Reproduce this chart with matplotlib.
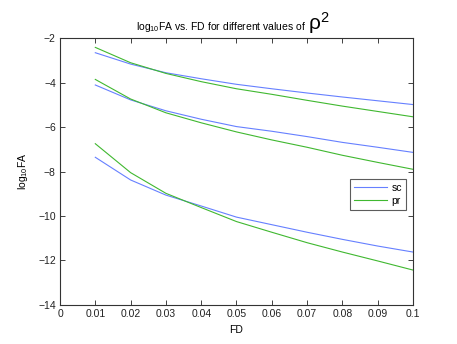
import numpy as np
from matplotlib import pyplot as plt

fd = [0.01, 0.02, 0.03, 0.04, 0.05, 0.06, 0.07, 0.08, 0.09, 0.1]

# three rho^2 values, sc = blue, pr = green
sc_1 = [-2.66, -3.17, -3.56, -3.83, -4.08, -4.28, -4.47, -4.65, -4.82, -4.99]
pr_1 = [-2.42, -3.11, -3.59, -3.96, -4.28, -4.53, -4.80, -5.06, -5.30, -5.54]
sc_2 = [-4.11, -4.78, -5.27, -5.65, -5.98, -6.19, -6.43, -6.69, -6.91, -7.14]
pr_2 = [-3.86, -4.74, -5.36, -5.81, -6.22, -6.58, -6.91, -7.27, -7.59, -7.90]
sc_3 = [-7.36, -8.38, -9.06, -9.55, -10.05, -10.39, -10.73, -11.05, -11.35, -11.62]
pr_3 = [-6.75, -8.05, -8.98, -9.62, -10.25, -10.73, -11.20, -11.62, -12.02, -12.43]

x_ticks = [0, 0.01, 0.02, 0.03, 0.04, 0.05, 0.06, 0.07, 0.08, 0.09, 0.1]
x_labels = ['0', '0.01', '0.02', '0.03', '0.04', '0.05', '0.06', '0.07', '0.08', '0.09', '0.1']
y_ticks = [-14, -12, -10, -8, -6, -4, -2]


def main():
    plt.rcParams['font.family'] = ['Liberation Sans', 'DejaVu Sans']
    plt.rcParams['mathtext.fontset'] = 'custom'
    plt.rcParams['mathtext.rm'] = 'Liberation Sans'
    plt.rcParams['mathtext.it'] = 'Liberation Sans:italic'
    plt.rcParams['mathtext.default'] = 'regular'

    blue = '#6680ff'
    green = '#40b830'

    fig = plt.figure(figsize=(4.57, 3.44), dpi=100)
    ax = fig.add_axes([0.1313, 0.1134, 0.7724, 0.776])

    ax.plot(fd, sc_1, color=blue, lw=0.8, label='sc')
    ax.plot(fd, pr_1, color=green, lw=0.8, label='pr')
    ax.plot(fd, sc_2, color=blue, lw=0.8)
    ax.plot(fd, pr_2, color=green, lw=0.8)
    ax.plot(fd, sc_3, color=blue, lw=0.8)
    ax.plot(fd, pr_3, color=green, lw=0.8)

    ax.set_xlim(0, 0.1)
    ax.set_ylim(-14, -2)
    ax.set_xticks(x_ticks)
    ax.set_xticklabels(x_labels)
    ax.set_yticks(y_ticks)
    ax.tick_params(direction='in', length=3.5, width=0.6, labelsize=7.5,
                   top=True, right=True, colors='#222222', pad=3)
    for s in ax.spines.values():
        s.set_linewidth(0.8)
        s.set_color('#333333')

    ax.set_xlabel('FD', fontsize=7.5, labelpad=4)
    ax.set_ylabel('log$_{10}$FA', fontsize=7.5, labelpad=6)

    # title with the larger rho^2
    fig.text(306 / 457, 1 - 30 / 344, 'log$_{10}$FA vs. FD for different values of ',
             fontsize=7.5, ha='right', va='baseline')
    fig.text(308 / 457, 1 - 30 / 344, '$\\rho^2$', fontsize=15, ha='left', va='baseline')

    leg = ax.legend(loc='upper right', bbox_to_anchor=(0.98, 0.473), fontsize=7.5,
                    frameon=True, fancybox=False, handlelength=3.2, borderpad=0.4,
                    labelspacing=0.3, handletextpad=0.4, borderaxespad=0)
    leg.get_frame().set_edgecolor('#333333')
    leg.get_frame().set_linewidth(0.8)

    plt.savefig('out.png', dpi=100)
    plt.close()


if __name__ == '__main__':
    main()
